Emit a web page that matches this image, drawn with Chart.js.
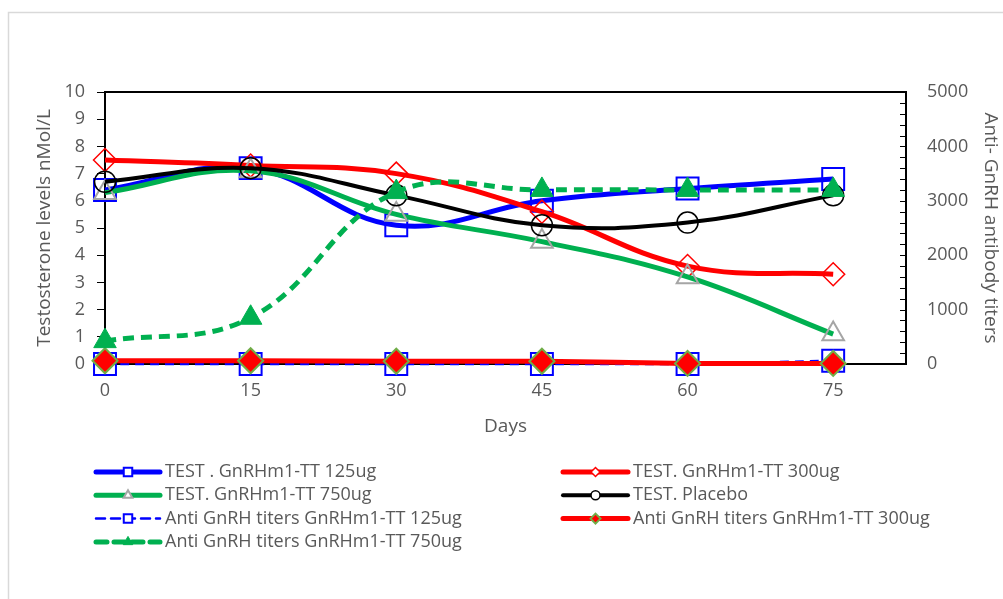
<!DOCTYPE html>
<html>
<head>
<meta charset="utf-8">
<script src="https://cdn.jsdelivr.net/npm/chart.js@4.4.0/dist/chart.umd.min.js"></script>
<style>
  html, body { margin: 0; padding: 0; background: #fff; }
</style>
</head>
<body>
<canvas id="chart" width="1003" height="599"></canvas>
<script>
// values
const days = [0, 15, 30, 45, 60, 75];
const test125 = [6.4, 7.2, 5.1, 6.0, 6.45, 6.8];
const test300 = [7.5, 7.3, 7.0, 5.6, 3.6, 3.3];
const test750 = [6.3, 7.1, 5.5, 4.5, 3.2, 1.1];
const placebo = [6.7, 7.2, 6.2, 5.1, 5.2, 6.2];
const anti125 = [0, 0, 0, 0, 0, 60];
const anti300 = [60, 60, 50, 50, 10, 10];
const anti750 = [420, 850, 3160, 3200, 3200, 3200];

const seriesNames = [
  'TEST . GnRHm1-TT 125ug',
  'TEST. GnRHm1-TT 300ug',
  'TEST. GnRHm1-TT 750ug',
  'TEST. Placebo',
  'Anti GnRH titers GnRHm1-TT 125ug',
  'Anti GnRH titers GnRHm1-TT 300ug',
  'Anti GnRH titers GnRHm1-TT 750ug'
];
const leftTicks = [0, 1, 2, 3, 4, 5, 6, 7, 8, 9, 10];
const rightTicks = [0, 1000, 2000, 3000, 4000, 5000];

const FONT = "'Open Sans', sans-serif";
const GREY = '#595959';

function pts(arr) {
  return arr.map((v, i) => ({ x: days[i], y: v }));
}

// legR = marker size used in the legend (smaller than on the plot)
const datasets = [
  { label: seriesNames[0], data: pts(test125), yAxisID: 'y', borderColor: '#0000FF', borderWidth: 5,
    pointStyle: 'rect', pointRadius: 15.5, pointBorderColor: '#0000FF', pointBorderWidth: 2, pointBackgroundColor: 'rgba(0,0,0,0)', legR: 6 },
  { label: seriesNames[1], data: pts(test300), yAxisID: 'y', borderColor: '#FF0000', borderWidth: 5,
    pointStyle: 'rectRot', pointRadius: 11.5, pointBorderColor: '#FF0000', pointBorderWidth: 1.5, pointBackgroundColor: 'rgba(0,0,0,0)', legR: 4.5 },
  { label: seriesNames[2], data: pts(test750), yAxisID: 'y', borderColor: '#00B050', borderWidth: 5,
    pointStyle: 'triangle', pointRadius: 12.5, pointBorderColor: '#A5A5A5', pointBorderWidth: 2, pointBackgroundColor: 'rgba(0,0,0,0)', legR: 5 },
  { label: seriesNames[3], data: pts(placebo), yAxisID: 'y', borderColor: '#000000', borderWidth: 4,
    pointStyle: 'circle', pointRadius: 10.5, pointBorderColor: '#000000', pointBorderWidth: 1.5, pointBackgroundColor: 'rgba(0,0,0,0)', legR: 4.5 },
  { label: seriesNames[4], data: pts(anti125), yAxisID: 'y2', borderColor: '#0000FF', borderWidth: 2.5, borderDash: [9, 6],
    pointStyle: 'rect', pointRadius: 15.5, pointBorderColor: '#0000FF', pointBorderWidth: 2, pointBackgroundColor: 'rgba(0,0,0,0)', legR: 6 },
  { label: seriesNames[5], data: pts(anti300), yAxisID: 'y2', borderColor: '#FF0000', borderWidth: 5,
    pointStyle: 'rectRot', pointRadius: 12.5, pointBorderColor: '#70AD47', pointBorderWidth: 2, pointBackgroundColor: '#FF0000', legR: 5 },
  { label: seriesNames[6], data: pts(anti750), yAxisID: 'y2', borderColor: '#00B050', borderWidth: 5, borderDash: [11, 7],
    pointStyle: 'triangle', pointRadius: 13, pointBorderColor: '#00B050', pointBorderWidth: 1, pointBackgroundColor: '#00B050', legR: 5.5 }
];
datasets.forEach((d, i) => {
  d.tension = 0.4;
  d.fill = false;
  d.clip = false;
  d.order = datasets.length - i; // later series on top, like the spreadsheet
  d.pointHoverRadius = d.pointRadius;
});

const framePlugin = {
  id: 'frame',
  beforeDraw(chart) {
    const ctx = chart.ctx;
    ctx.save();
    ctx.strokeStyle = '#D9D9D9';
    ctx.lineWidth = 1.5;
    ctx.beginPath();
    ctx.moveTo(8.5, 599);
    ctx.lineTo(8.5, 12.5);
    ctx.lineTo(1003, 12.5);
    ctx.stroke();
    ctx.restore();
  },
  beforeDatasetsDraw(chart) {
    const { ctx, chartArea: a } = chart;
    ctx.save();
    ctx.strokeStyle = '#000';
    ctx.lineWidth = 2;
    ctx.strokeRect(a.left, a.top, a.right - a.left, a.bottom - a.top);
    // minor ticks on the right axis, pointing inward
    const y2 = chart.scales.y2;
    ctx.lineWidth = 1;
    for (let v = 200; v < 5000; v += 200) {
      const py = Math.round(y2.getPixelForValue(v)) + 0.5;
      ctx.beginPath();
      ctx.moveTo(a.right - 6, py);
      ctx.lineTo(a.right, py);
      ctx.stroke();
    }
    ctx.restore();
  }
};

const legendPlugin = {
  id: 'gridLegend',
  afterDraw(chart) {
    const ctx = chart.ctx;
    ctx.save();
    chart.data.datasets.forEach((d, i) => {
      const col = i % 2;
      const row = Math.floor(i / 2);
      const x0 = col ? 563 : 96;
      const x1 = col ? 628 : 160;
      const y = 472 + row * 23.3;
      ctx.strokeStyle = d.borderColor;
      ctx.lineWidth = d.borderWidth;
      ctx.lineCap = 'round';
      ctx.setLineDash(d.borderDash || []);
      ctx.beginPath();
      ctx.moveTo(x0, y);
      ctx.lineTo(x1, y);
      ctx.stroke();
      ctx.setLineDash([]);
      ctx.lineCap = 'butt';
      ctx.fillStyle = d.pointBackgroundColor === 'rgba(0,0,0,0)' ? '#FFFFFF' : d.pointBackgroundColor;
      ctx.strokeStyle = d.pointBorderColor;
      ctx.lineWidth = d.pointBorderWidth;
      Chart.helpers.drawPoint(ctx, { pointStyle: d.pointStyle, radius: d.legR, rotation: 0, borderWidth: d.pointBorderWidth }, (x0 + x1) / 2, y);
      ctx.fillStyle = GREY;
      ctx.font = '18px ' + FONT;
      ctx.textBaseline = 'middle';
      ctx.textAlign = 'left';
      ctx.fillText(d.label, x1 + 5, y);
    });
    ctx.restore();
  }
};

new Chart(document.getElementById('chart'), {
  type: 'line',
  data: { datasets: datasets },
  options: {
    responsive: false,
    animation: false,
    devicePixelRatio: 1,
    layout: { padding: { top: 92, bottom: 159, left: 0, right: 0 } },
    plugins: { legend: { display: false }, tooltip: { enabled: false } },
    scales: {
      x: {
        type: 'linear', min: 0, max: 82.5,
        afterBuildTicks: s => { s.ticks = days.map(v => ({ value: v })); },
        afterFit: s => { s.height = 76; },
        grid: { display: false, drawTicks: false },
        border: { display: false },
        ticks: { color: GREY, font: { family: FONT, size: 18 }, padding: 16, callback: v => String(v) },
        title: { display: true, text: 'Days', color: GREY, font: { family: FONT, size: 19 }, padding: { top: 0, bottom: 2 } }
      },
      y: {
        position: 'left', min: 0, max: 10,
        afterBuildTicks: s => { s.ticks = leftTicks.map(v => ({ value: v })); },
        afterFit: s => { s.width = 105; },
        grid: { drawOnChartArea: false, drawTicks: true, tickLength: 8, color: '#000', lineWidth: 1 },
        border: { display: false },
        ticks: { color: GREY, font: { family: FONT, size: 18 }, padding: 12, callback: v => String(v) },
        title: { display: true, text: 'Testosterone levels nMol/L', color: GREY, font: { family: FONT, size: 19 }, padding: { top: 33, bottom: 0 } }
      },
      y2: {
        position: 'right', min: 0, max: 5000,
        afterBuildTicks: s => { s.ticks = rightTicks.map(v => ({ value: v })); },
        afterFit: s => { s.width = 97; },
        grid: { display: false, drawTicks: false },
        border: { display: false },
        ticks: { color: GREY, font: { family: FONT, size: 18 }, padding: 21, callback: v => String(v) },
        title: { display: true, text: 'Anti- GnRH antibody titers', color: GREY, font: { family: FONT, size: 19 }, padding: { top: 1, bottom: 0 } }
      }
    }
  },
  plugins: [framePlugin, legendPlugin]
});
</script>
</body>
</html>
